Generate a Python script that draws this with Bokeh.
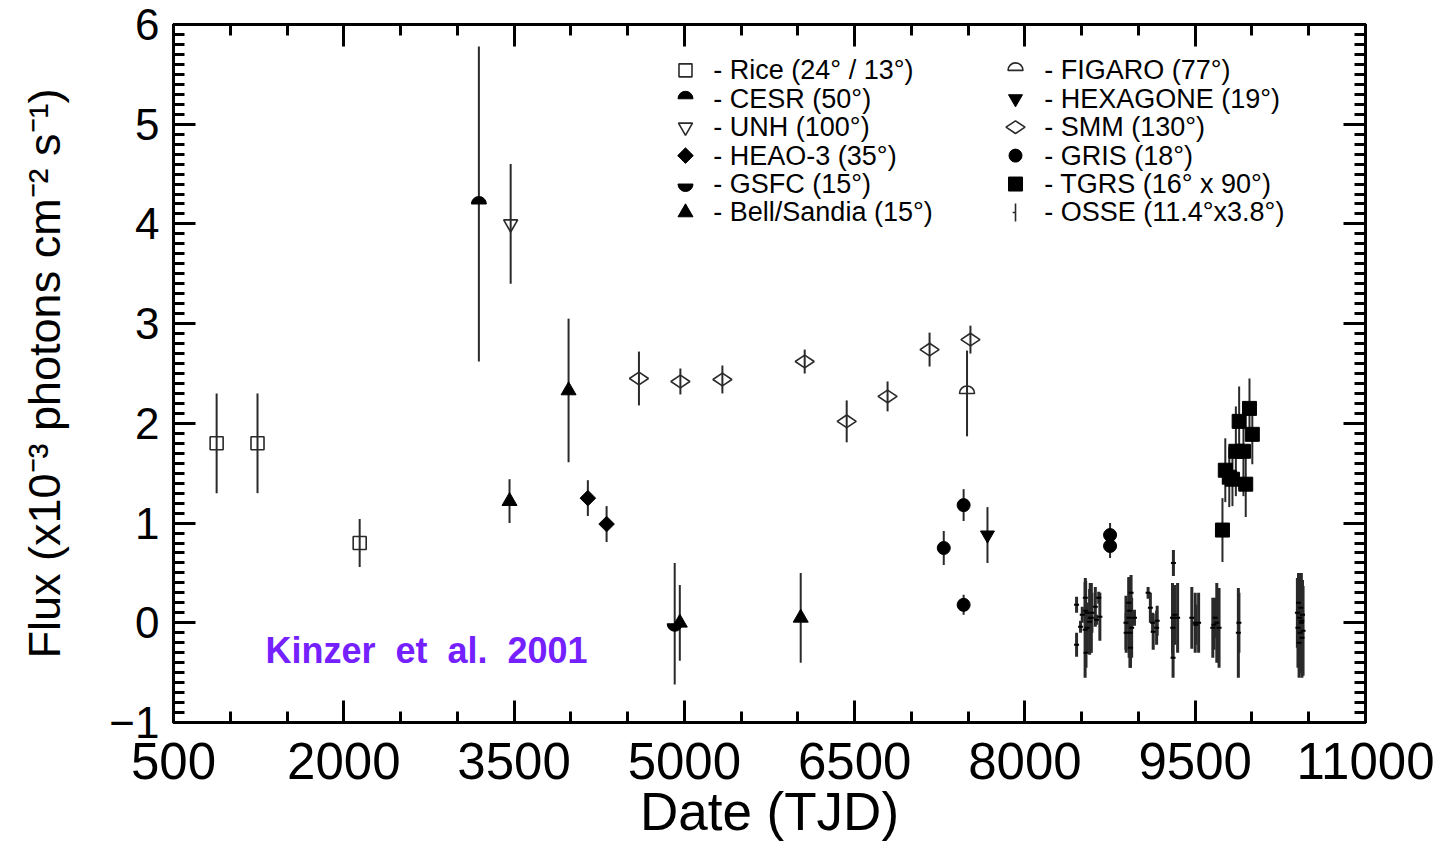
import numpy as np
from bokeh.plotting import figure
from bokeh.models import Range1d, LinearAxis, FixedTicker
from bokeh.core.properties import value
from bokeh.embed import file_html
from bokeh.resources import INLINE

# ---------------- data (TJD, flux x1e-3, 1-sigma error) ----------------
rice_x = [880, 1240, 2140]
rice_y = [1.80, 1.80, 0.80]
rice_e = [0.50, 0.50, 0.24]

cesr_x = [3190]
cesr_y = [4.20]
cesr_e = [1.58]

unh_x = [3470]
unh_y = [4.00]
unh_e = [0.60]

heao_x = [4150, 4315]
heao_y = [1.25, 0.99]
heao_e = [0.18, 0.18]

gsfc_x = [4915]
gsfc_y = [-0.01]
gsfc_e = [0.61]

bell_x = [3460, 3980, 4960, 6025]
bell_y = [1.22, 2.33, 0.00, 0.05]
bell_e = [0.22, 0.72, 0.38, 0.45]

figaro_x = [7490]
figaro_y = [2.30]
figaro_e = [0.43]

hexa_x = [7670]
hexa_y = [0.88]
hexa_e = [0.28]

smm_x = [4600, 4965, 5335, 6060, 6430, 6790, 7160, 7520]
smm_y = [2.45, 2.42, 2.44, 2.62, 2.02, 2.27, 2.74, 2.84]
smm_e = [0.27, 0.13, 0.14, 0.12, 0.21, 0.15, 0.17, 0.14]

gris_x = [7285, 7460, 7460, 8750, 8750]
gris_y = [0.75, 1.18, 0.18, 0.88, 0.77]
gris_e = [0.17, 0.16, 0.10, 0.12, 0.12]

tgrs_x = [9740, 9765, 9800, 9828, 9858, 9887, 9925, 9945, 9978, 10003]
tgrs_y = [0.93, 1.53, 1.46, 1.44, 1.72, 2.02, 1.72, 1.39, 2.15, 1.89]
tgrs_e = [0.32, 0.32, 0.30, 0.27, 0.45, 0.35, 0.45, 0.33, 0.30, 0.30]

osse_x = [8455, 8455, 8490, 8505, 8530, 8532, 8535, 8538, 8545, 8548, 8570, 8575,
          8585, 8590, 8620, 8630, 8650, 8660,
          8890, 8892, 8915, 8918, 8920, 8925, 8930, 8935, 8940, 8965,
          9085, 9105, 9125, 9130, 9160, 9165,
          9300, 9302, 9305, 9308, 9320, 9345,
          9470, 9500, 9505, 9530,
          9655, 9665, 9675, 9690, 9710,
          9880, 9885,
          10400, 10405, 10410, 10415, 10420, 10425, 10430, 10435, 10440, 10445, 10450, 10438]
osse_y = [0.18, -0.22, -0.04, 0.08, -0.07, 0.25, 0.12, -0.30, 0.10, -0.05, 0.01, 0.05,
          0.05, 0.10, 0.16, 0.03, 0.25, 0.06,
          0.00, -0.10, 0.20, 0.05, 0.12, -0.10, -0.25, 0.30, -0.05, 0.05,
          0.30, 0.15, 0.00, -0.09, -0.05, 0.02,
          0.05, -0.05, -0.35, 0.60, 0.08, 0.05,
          0.05, 0.00, -0.02, 0.00,
          -0.05, -0.02, 0.05, 0.00, -0.05,
          -0.10, 0.00,
          0.10, -0.05, 0.20, -0.20, 0.05, -0.10, 0.15, 0.00, -0.15, 0.08, -0.08, 0.02]
osse_e = [0.08, 0.12, 0.06, 0.08, 0.48, 0.20, 0.30, 0.15, 0.10, 0.25, 0.33, 0.35,
          0.35, 0.20, 0.20, 0.05, 0.06, 0.24,
          0.27, 0.20, 0.26, 0.40, 0.30, 0.35, 0.20, 0.18, 0.30, 0.08,
          0.06, 0.15, 0.10, 0.18, 0.17, 0.15,
          0.35, 0.30, 0.20, 0.13, 0.30, 0.35,
          0.31, 0.30, 0.20, 0.30,
          0.30, 0.25, 0.20, 0.40, 0.40,
          0.45, 0.30,
          0.35, 0.40, 0.30, 0.35, 0.45, 0.40, 0.30, 0.50, 0.40, 0.35, 0.45, 0.30]

x_ticks = [500, 2000, 3500, 5000, 6500, 8000, 9500, 11000]
y_ticks = [-1, 0, 1, 2, 3, 4, 5, 6]

legend_col1 = ["- Rice (24° / 13°)", "- CESR (50°)", "- UNH (100°)",
               "- HEAO-3 (35°)", "- GSFC (15°)", "- Bell/Sandia (15°)"]
legend_col2 = ["- FIGARO (77°)", "- HEXAGONE (19°)", "- SMM (130°)",
               "- GRIS (18°)", "- TGRS (16° x 90°)", "- OSSE (11.4°x3.8°)"]

citation = "Kinzer\u00a0 et\u00a0 al.\u00a0 2001"

# ---------------- figure ----------------
W, H = 1451, 843
FONT = "Liberation Sans"
p = figure(width=W, height=H, x_range=Range1d(500, 11000), y_range=Range1d(-1, 6),
           output_backend="svg", toolbar_location=None,
           min_border_left=173, min_border_right=86, min_border_top=24, min_border_bottom=117)
p.xgrid.visible = False
p.ygrid.visible = False
p.outline_line_color = "black"
p.outline_line_width = 3
p.background_fill_color = "white"
p.border_fill_color = "white"

def make_xt():
    return FixedTicker(ticks=x_ticks, minor_ticks=list(range(500, 11001, 500)))

def make_yt():
    return FixedTicker(ticks=y_ticks, minor_ticks=[round(-1 + 0.1 * i, 1) for i in range(71)])

def style_axis(ax, ticker, ticks, show_labels):
    ax.ticker = ticker
    ax.axis_line_color = "black"
    ax.axis_line_width = 3
    ax.major_tick_in = 22
    ax.major_tick_out = 0
    ax.minor_tick_in = 11
    ax.minor_tick_out = 0
    ax.major_tick_line_width = 3
    ax.minor_tick_line_width = 3
    ax.major_tick_line_color = "black"
    ax.minor_tick_line_color = "black"
    if not show_labels:
        ax.major_label_overrides = {t: "" for t in ticks}
        ax.major_label_text_font_size = "10px"
        ax.major_label_standoff = 0

xa = p.xaxis[0]
ya = p.yaxis[0]
style_axis(xa, make_xt(), x_ticks, True)
style_axis(ya, make_yt(), y_ticks, True)
xa.major_label_text_font = FONT
xa.major_label_text_font_size = "51px"
xa.major_label_text_color = "black"
xa.major_label_standoff = 20
xa.axis_label = "Date (TJD)"
xa.axis_label_text_font = FONT
xa.axis_label_text_font_size = "53px"
xa.axis_label_text_font_style = "normal"
xa.axis_label_text_color = "black"
xa.axis_label_standoff = 0
ya.major_label_text_font = FONT
ya.major_label_text_font_size = "44px"
ya.major_label_text_color = "black"
ya.major_label_standoff = 14
ya.axis_label = "Flux (x10⁻³ photons cm⁻² s⁻¹)"
ya.axis_label_text_font = FONT
ya.axis_label_text_font_size = "45px"
ya.axis_label_text_font_style = "normal"
ya.axis_label_text_color = "black"
ya.axis_label_standoff = 36

top = LinearAxis()
style_axis(top, make_xt(), x_ticks, False)
right = LinearAxis()
style_axis(right, make_yt(), y_ticks, False)
p.add_layout(top, "above")
p.add_layout(right, "right")

BAR = "#2a2a2a"

def errbars(xs, ys, es, width=2):
    xs = np.asarray(xs, float); ys = np.asarray(ys, float); es = np.asarray(es, float)
    p.segment(x0=xs, y0=ys - es, x1=xs, y1=ys + es, line_color=BAR, line_width=width)

for xs, ys, es in [(rice_x, rice_y, rice_e), (cesr_x, cesr_y, cesr_e), (unh_x, unh_y, unh_e),
                   (heao_x, heao_y, heao_e), (gsfc_x, gsfc_y, gsfc_e), (bell_x, bell_y, bell_e),
                   (figaro_x, figaro_y, figaro_e), (hexa_x, hexa_y, hexa_e), (smm_x, smm_y, smm_e),
                   (gris_x, gris_y, gris_e), (tgrs_x, tgrs_y, tgrs_e)]:
    errbars(xs, ys, es)
errbars(osse_x, osse_y, osse_e, width=3)

def draw_rice(xs, ys):
    p.scatter(xs, ys, marker="square", size=13, fill_color="white", fill_alpha=0, line_color=BAR, line_width=1.6)

def draw_cesr(xs, ys):
    p.wedge(xs, ys, radius=7.5, radius_units="screen", start_angle=0, end_angle=np.pi,
            fill_color="black", line_color="black")

def draw_unh(xs, ys):
    p.scatter(xs, ys, marker="inverted_triangle", size=14, fill_color="white", fill_alpha=0, line_color=BAR, line_width=1.6)

def draw_heao(xs, ys):
    p.scatter(xs, ys, marker="square", angle=np.pi / 4, size=11, fill_color="black", line_color="black")

def draw_gsfc(xs, ys):
    p.wedge(xs, ys, radius=7.5, radius_units="screen", start_angle=np.pi, end_angle=2 * np.pi,
            fill_color="black", line_color="black")

def draw_bell(xs, ys):
    p.scatter(xs, ys, marker="triangle", size=15, fill_color="black", line_color="black")

def draw_figaro(xs, ys):
    p.wedge(xs, ys, radius=7.5, radius_units="screen", start_angle=0, end_angle=np.pi,
            fill_color=None, line_color=BAR, line_width=1.6)

def draw_hexa(xs, ys):
    p.scatter(xs, ys, marker="inverted_triangle", size=14, fill_color="black", line_color="black")

def draw_smm(xs, ys):
    p.scatter(xs, ys, marker="diamond", angle=np.pi / 2, size=19, fill_color="white", fill_alpha=0,
              line_color=BAR, line_width=1.6)

def draw_gris(xs, ys):
    p.scatter(xs, ys, marker="circle", size=13, fill_color="black", line_color="black")

def draw_tgrs(xs, ys):
    p.scatter(xs, ys, marker="square", size=14, fill_color="black", line_color="black")

def draw_osse(xs, ys):
    p.scatter(xs, ys, marker="dash", size=5, line_color="black", line_width=2)

draw_rice(rice_x, rice_y)
draw_cesr(cesr_x, cesr_y)
draw_unh(unh_x, unh_y)
draw_heao(heao_x, heao_y)
draw_gsfc(gsfc_x, gsfc_y)
draw_bell(bell_x, bell_y)
draw_figaro(figaro_x, figaro_y)
draw_hexa(hexa_x, hexa_y)
draw_smm(smm_x, smm_y)
draw_gris(gris_x, gris_y)
draw_tgrs(tgrs_x, tgrs_y)
draw_osse(osse_x, osse_y)

# ---------------- legend (layout positions) ----------------
LX1, TX1 = 5010, 5255
LX2, TX2 = 7917, 8170
LY0, LDY = 5.54, -0.285
rows = [LY0 + i * LDY for i in range(6)]
col1_draw = [draw_rice, draw_cesr, draw_unh, draw_heao, draw_gsfc, draw_bell]
col2_draw = [draw_figaro, draw_hexa, draw_smm, draw_gris, draw_tgrs, None]
for i in range(6):
    col1_draw[i]([LX1], [rows[i]])
    if col2_draw[i] is not None:
        col2_draw[i]([LX2], [rows[i]])
p.segment(x0=[LX2], y0=[rows[5] - 0.09], x1=[LX2], y1=[rows[5] + 0.09], line_color=BAR, line_width=1.6)
p.segment(x0=[LX2 - 25], y0=[rows[5]], x1=[LX2], y1=[rows[5]], line_color=BAR, line_width=1.6)

p.text(x=[TX1] * 6, y=rows, text=legend_col1, text_font=value(FONT), text_font_size="27px",
       text_baseline="middle", text_align="left", text_color="black")
p.text(x=[TX2] * 6, y=rows, text=legend_col2, text_font=value(FONT), text_font_size="27px",
       text_baseline="middle", text_align="left", text_color="black")

# citation annotation
p.text(x=[1310], y=[-0.28], text=[citation],
       text_font=value(FONT), text_font_style="bold",
       text_font_size="36px", text_color="#7420ff", text_baseline="alphabetic", text_align="left")

open("out.html", "w").write(file_html(p, INLINE))
